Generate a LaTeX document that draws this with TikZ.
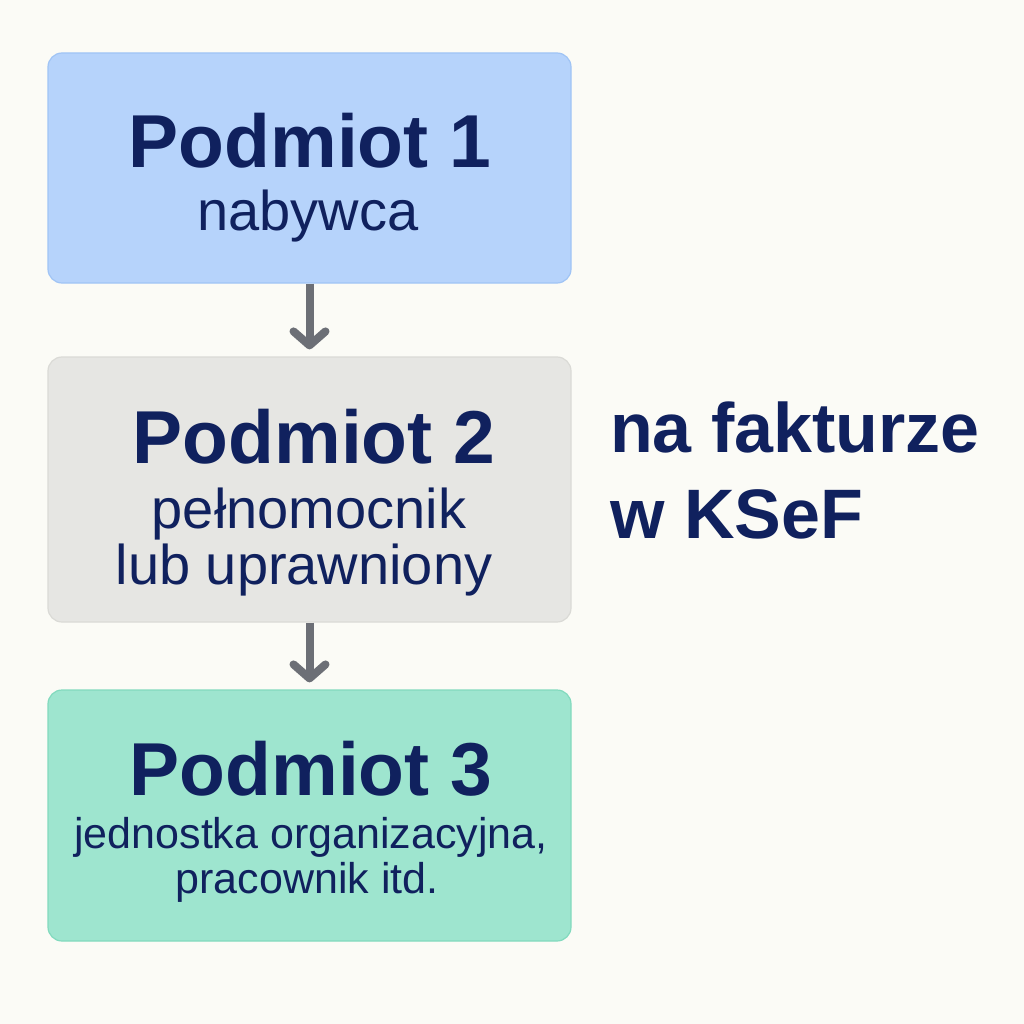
\documentclass[tikz,border=0pt]{standalone}
\usepackage{fontspec}
\setmainfont{Liberation Sans}
\usetikzlibrary{arrows.meta,positioning}
\definecolor{navy}{RGB}{16,33,94}
\definecolor{bgc}{RGB}{251,251,246}
\definecolor{blueb}{RGB}{182,211,251}
\definecolor{bluel}{RGB}{160,196,245}
\definecolor{greyb}{RGB}{230,230,227}
\definecolor{greyl}{RGB}{218,218,214}
\definecolor{mintb}{RGB}{158,229,207}
\definecolor{mintl}{RGB}{130,218,190}
\definecolor{arrc}{RGB}{108,111,118}
\tikzset{
  box/.style={rounded corners=14pt, line width=1.2pt, minimum width=523pt, inner sep=0pt},
  title/.style={text=navy, font=\bfseries\fontsize{75}{80}\selectfont, anchor=base, inner sep=0pt},
  sub/.style={text=navy, font=\fontsize{56}{60}\selectfont, anchor=base, inner sep=0pt},
  subsm/.style={text=navy, font=\fontsize{43}{48}\selectfont, anchor=base, inner sep=0pt},
  side/.style={text=navy, font=\bfseries\fontsize{70}{76}\selectfont, anchor=base west, inner sep=0pt},
  flow/.style={draw=arrc, line width=8pt, shorten >=7pt,
    -{Straight Barb[length=14pt, width=32pt, round]}}
}
\begin{document}
\begin{tikzpicture}[x=1pt,y=-1pt]
        % Background
        \fill[bgc] (0,0) rectangle (1024,1024);
        \useasboundingbox (0,0) rectangle (1024,1024);
        % Boxes
        \node[box, fill=blueb, draw=bluel, minimum height=230pt] (b1) at (309.5,168) {};
        \node[box, fill=greyb, draw=greyl, minimum height=265pt] (b2) at (309.5,489.5) {};
        \node[box, fill=mintb, draw=mintl, minimum height=251pt] (b3) at (309.5,815.5) {};
        % Arrows between boxes
        \draw[flow] (b1.south) -- (b2.north);
        \draw[flow] (b2.south) -- (b3.north);
        % Labels in boxes
        \node[title] (t1) at (310,168) {Podmiot 1};
        \node[sub] (s1) at (308,230) {nabywca};
        \node[title] (t2) at (314,463) {Podmiot 2};
        \node[sub] (s2a) at (309,528) {pełnomocnik};
        \node[sub] (s2b) at (304,584) {lub uprawniony};
        \node[title] (t3) at (311,795) {Podmiot 3};
        \node[subsm] (s3a) at (311,848) {jednostka organizacyjna,};
        \node[subsm] (s3b) at (307,893) {pracownik itd.};
        % Side label
        \node[side] (n1) at (610,452) {na fakturze};
        \node[side] (n2) at (610,538) {w KSeF};
    \end{tikzpicture}
\end{document}
